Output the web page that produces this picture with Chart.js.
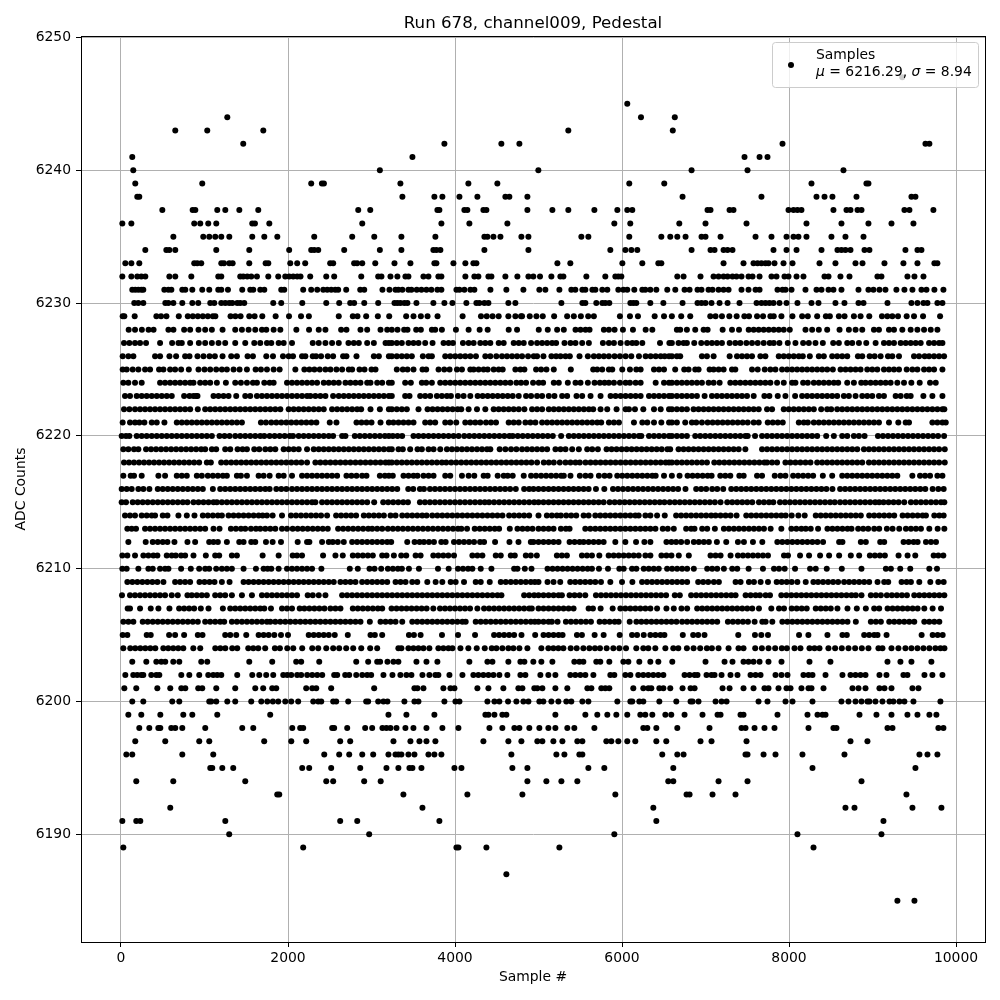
<!DOCTYPE html>
<html lang="en">
<head>
    <meta charset="UTF-8">
    <title>Run 678, channel009, Pedestal</title>
    <script src="https://cdn.jsdelivr.net/npm/chart.js"></script>
    <style>
        body { margin: 0; padding: 0; background: #ffffff; }
        canvas { display: block; }
    </style>
</head>
<body>
    <canvas id="pedestalChart" width="1000" height="1000"></canvas>

    <script>
        const xTicks = [0, 2000, 4000, 6000, 8000, 10000];
        const yTicks = [6190, 6200, 6210, 6220, 6230, 6240, 6250];
        const chartTitle = "Run 678, channel009, Pedestal";
        const xTitle = "Sample #";
        const yTitle = "ADC Counts";
        const seriesName = "Samples";
        const meanText = "6216.29";
        const sigmaText = "8.94";

        // sample numbers, one list per ADC count
        const adc6185 = [9298, 9502];
        const adc6187 = [4615];
        const adc6189 = [28, 2182, 4017, 4041, 4376, 5250, 8293];
        const adc6190 = [1296, 2972, 5908, 8101, 9107];
        const adc6191 = [16, 183, 231, 1249, 2625, 2829, 3813, 6411, 9131];
        const adc6192 = [590, 3610, 6375, 8676, 8784, 9478, 9825];
        const adc6193 = [1871, 1895, 3382, 4148, 4807, 5920, 6773, 6809, 7084, 7359, 9406];
        const adc6194 = [183, 626, 1488, 2458, 2541, 2912, 3110, 4867, 5094, 5274, 5465, 6554, 6614, 7156, 7503, 8868];
        const adc6195 = [1069, 1093, 1213, 1344, 2170, 2254, 2517, 2865, 3179, 3322, 3454, 3490, 3598, 3993, 4077, 4687, 4867, 5597, 5788, 6614, 8281, 9514];
        const adc6196 = [64, 135, 734, 1105, 2434, 2613, 2733, 2889, 3020, 3203, 3287, 3322, 3358, 3442, 3514, 3682, 3753, 3837, 4675, 5214, 5310, 5489, 5525, 6482, 6662, 6737, 7479, 7503, 7695, 7838, 8161, 8664, 9562, 9658, 9777];
        const adc6197 = [171, 530, 937, 1057, 1715, 2039, 2218, 2625, 2745, 3263, 3466, 3574, 3658, 3765, 4340, 4639, 4795, 4986, 5046, 5178, 5286, 5465, 5525, 5812, 5872, 5956, 6063, 6159, 6411, 6530, 6940, 7072, 7491, 8736, 8939];
        const adc6198 = [219, 339, 447, 471, 602, 650, 734, 1009, 1452, 1584, 2051, 2146, 2182, 2529, 2553, 2709, 2924, 3008, 3131, 3179, 3227, 3299, 3406, 3502, 3658, 3849, 4041, 4412, 4567, 4711, 4771, 4890, 5010, 5118, 5202, 5345, 5429, 5669, 6255, 6303, 6411, 6662, 7048, 7431, 7479, 7587, 7706, 7826, 8233, 8532, 8568, 9179, 9239, 9789, 9849];
        const adc6199 = [88, 243, 471, 746, 854, 1153, 1787, 3203, 3418, 3753, 4364, 4400, 4472, 4567, 4615, 5202, 5561, 5704, 5824, 5932, 6063, 6219, 6279, 6363, 6519, 6590, 6749, 6964, 7144, 7180, 7419, 7455, 7862, 8221, 8341, 8401, 8437, 8844, 9047, 9227, 9418, 9538, 9681, 9765];
        const adc6200 = [135, 267, 614, 698, 1057, 1081, 1141, 1273, 1368, 1560, 1680, 1752, 1819, 1883, 1967, 2039, 2122, 2302, 2362, 2398, 2541, 2577, 2721, 2936, 2960, 3080, 3143, 3191, 3394, 3514, 3562, 3873, 4005, 4053, 4388, 4472, 4531, 4635, 4735, 4819, 4879, 5010, 5058, 5154, 5238, 5333, 5393, 5525, 5597, 5944, 6100, 6123, 6207, 6255, 6447, 6650, 6821, 6845, 6916, 7120, 7192, 7252, 7635, 7742, 7958, 8042, 8281, 8628, 8712, 8796, 8868, 8939, 8963, 9035, 9119, 9203, 9250, 9322, 9382, 9490, 9813];
        const adc6201 = [40, 183, 435, 590, 722, 770, 925, 973, 1141, 1368, 1608, 1703, 1811, 1859, 2218, 2290, 2338, 2517, 3032, 3514, 3550, 3622, 3861, 3945, 3993, 4268, 4400, 4579, 4759, 4807, 4950, 4986, 5046, 5202, 5345, 5585, 5633, 5752, 5800, 5848, 6135, 6255, 6315, 6351, 6447, 6495, 6578, 6725, 6821, 6869, 7204, 7288, 7455, 7575, 7706, 7754, 7874, 7970, 8018, 8149, 8233, 8269, 8413, 8760, 8832, 8916, 9083, 9143, 9227, 9478, 9550];
        const adc6202 = [52, 147, 195, 243, 267, 363, 423, 459, 722, 818, 937, 1045, 1105, 1153, 1201, 1392, 1572, 1656, 1739, 1823, 1943, 1991, 2039, 2110, 2158, 2230, 2290, 2350, 2410, 2553, 2589, 2685, 2733, 2817, 2889, 2948, 2996, 3143, 3251, 3346, 3418, 3478, 3610, 3693, 3765, 3801, 3933, 4089, 4220, 4280, 4340, 4400, 4460, 4531, 4627, 4783, 4843, 5022, 5118, 5202, 5381, 5441, 5501, 5561, 5657, 5860, 5908, 6040, 6100, 6195, 6255, 6315, 6375, 6435, 6495, 6749, 6809, 6869, 6904, 7012, 7072, 7108, 7192, 7299, 7383, 7539, 7599, 7659, 7838, 7910, 7982, 8173, 8233, 8281, 8437, 8640, 8736, 8796, 8856, 8916, 9083, 9167, 9370, 9418, 9622, 9717, 9837];
        const adc6203 = [135, 303, 423, 483, 530, 626, 698, 961, 1033, 1536, 1811, 2098, 2158, 2374, 2817, 2960, 3068, 3103, 3191, 3263, 3322, 3538, 3658, 3789, 4172, 4388, 4448, 4639, 4783, 4831, 4938, 5034, 5166, 5429, 5489, 5537, 5692, 5740, 5848, 6016, 6076, 6207, 6339, 6435, 6602, 7000, 7228, 7323, 7455, 7515, 7575, 7647, 7754, 7910, 8245, 8496, 9179, 9334, 9466, 9705];
        const adc6204 = [28, 111, 171, 231, 291, 351, 411, 507, 566, 626, 686, 746, 866, 949, 1129, 1189, 1249, 1332, 1392, 1524, 1584, 1644, 1727, 1843, 1903, 1991, 2063, 2170, 2290, 2362, 2458, 2541, 2613, 2697, 2781, 2877, 2984, 3068, 3322, 3358, 3442, 3502, 3562, 3622, 3693, 3801, 3861, 3921, 3969, 4065, 4160, 4260, 4356, 4440, 4496, 4567, 4639, 4699, 4771, 4867, 5034, 5118, 5178, 5238, 5298, 5385, 5457, 5537, 5609, 5676, 5736, 5816, 5896, 5968, 6048, 6171, 6255, 6315, 6399, 6519, 6614, 6674, 6777, 6857, 6936, 7016, 7076, 7156, 7276, 7395, 7455, 7595, 7675, 7754, 7834, 7914, 7974, 8066, 8137, 8245, 8305, 8365, 8472, 8552, 8632, 8712, 8792, 8872, 8951, 9071, 9119, 9227, 9310, 9394, 9466, 9538, 9610, 9681, 9753, 9813, 9861];
        const adc6205 = [20, 76, 308, 356, 576, 648, 756, 920, 976, 1248, 1308, 1380, 1500, 1648, 1708, 1768, 1836, 1916, 2000, 2248, 2308, 2368, 2428, 2488, 2560, 2716, 2988, 3040, 3128, 3448, 3508, 3588, 3844, 4036, 4240, 4468, 4528, 4588, 4648, 4708, 4796, 4960, 5060, 5120, 5180, 5240, 5288, 5460, 5520, 5672, 5780, 5972, 6120, 6180, 6260, 6340, 6400, 6460, 6508, 6728, 6852, 6912, 6988, 7392, 7592, 7668, 7748, 8120, 8232, 8460, 8640, 8692, 8900, 8960, 9020, 9060, 9168, 9588, 9720, 9780, 9840];
        const adc6206 = [28, 88, 148, 260, 320, 380, 440, 500, 560, 620, 680, 740, 800, 860, 920, 1008, 1068, 1128, 1188, 1236, 1328, 1388, 1448, 1508, 1568, 1628, 1688, 1748, 1788, 1848, 1908, 1968, 2028, 2088, 2148, 2208, 2268, 2328, 2388, 2448, 2508, 2568, 2628, 2688, 2748, 2808, 2868, 2980, 3108, 3168, 3228, 3288, 3368, 3488, 3548, 3608, 3668, 3728, 3788, 3848, 3908, 3968, 4028, 4088, 4128, 4248, 4308, 4368, 4428, 4488, 4548, 4608, 4668, 4728, 4788, 4848, 4908, 4956, 5000, 5060, 5120, 5160, 5228, 5328, 5388, 5448, 5508, 5568, 5628, 5732, 5792, 5852, 5912, 5960, 6092, 6172, 6232, 6292, 6352, 6412, 6472, 6532, 6592, 6652, 6720, 6780, 6840, 6900, 6960, 7020, 7080, 7140, 7268, 7328, 7388, 7448, 7508, 7588, 7680, 7720, 7800, 7920, 7980, 8040, 8100, 8160, 8220, 8280, 8340, 8400, 8460, 8520, 8580, 8640, 8700, 8800, 8980, 9040, 9100, 9200, 9260, 9320, 9380, 9440, 9500, 9620, 9680, 9740, 9800];
        const adc6207 = [80, 108, 228, 356, 448, 580, 696, 756, 816, 876, 956, 1048, 1220, 1308, 1368, 1428, 1488, 1548, 1608, 1668, 1716, 1796, 1928, 1988, 2048, 2140, 2196, 2256, 2316, 2376, 2436, 2508, 2568, 2628, 2776, 2836, 2896, 2956, 3016, 3076, 3128, 3240, 3300, 3360, 3420, 3480, 3540, 3600, 3660, 3740, 3820, 3880, 3940, 4000, 4060, 4120, 4180, 4268, 4348, 4408, 4468, 4528, 4588, 4648, 4708, 4768, 4828, 4888, 4920, 5000, 5060, 5120, 5180, 5240, 5300, 5360, 5420, 5600, 5652, 5744, 5888, 5980, 6040, 6100, 6160, 6220, 6280, 6340, 6420, 6532, 6620, 6712, 6780, 6900, 6960, 7020, 7080, 7140, 7200, 7260, 7320, 7380, 7440, 7500, 7560, 7640, 7788, 7880, 7940, 8032, 8092, 8152, 8212, 8320, 8380, 8440, 8500, 8580, 8700, 8812, 8920, 9020, 9080, 9180, 9240, 9300, 9360, 9420, 9480, 9540, 9620, 9720, 9820];
        const adc6208 = [12, 108, 168, 228, 288, 348, 408, 468, 528, 608, 680, 796, 848, 908, 968, 1028, 1128, 1188, 1248, 1328, 1448, 1568, 1688, 1748, 1808, 1868, 1928, 1988, 2048, 2108, 2236, 2296, 2368, 2448, 2648, 2708, 2768, 2828, 2888, 2948, 3008, 3068, 3128, 3188, 3248, 3308, 3368, 3428, 3488, 3548, 3608, 3668, 3728, 3788, 3848, 3908, 3968, 4028, 4088, 4148, 4208, 4268, 4328, 4388, 4448, 4508, 4556, 4828, 4888, 4948, 5000, 5060, 5120, 5180, 5240, 5280, 5372, 5432, 5492, 5560, 5688, 5748, 5808, 5868, 5928, 5988, 6048, 6108, 6168, 6228, 6288, 6348, 6408, 6468, 6528, 6632, 6692, 6828, 6888, 6948, 7008, 7068, 7128, 7188, 7248, 7308, 7360, 7480, 7540, 7600, 7652, 7720, 7772, 7908, 7968, 8028, 8088, 8148, 8208, 8268, 8328, 8388, 8448, 8508, 8568, 8628, 8688, 8748, 8800, 8868, 8980, 9040, 9100, 9172, 9232, 9292, 9352, 9412, 9500, 9560, 9620, 9680, 9740, 9800, 9860];
        const adc6209 = [76, 136, 196, 256, 316, 376, 436, 508, 648, 708, 768, 828, 940, 1000, 1060, 1120, 1208, 1300, 1468, 1528, 1588, 1648, 1708, 1768, 1828, 1888, 1948, 2008, 2068, 2128, 2188, 2248, 2308, 2368, 2428, 2488, 2548, 2628, 2688, 2748, 2808, 2888, 2948, 3008, 3068, 3128, 3188, 3288, 3348, 3408, 3488, 3548, 3668, 3768, 3848, 3948, 4008, 4108, 4248, 4308, 4416, 4548, 4608, 4668, 4728, 4788, 4848, 4908, 4956, 5000, 5108, 5180, 5260, 5380, 5440, 5500, 5560, 5620, 5680, 5748, 5860, 6000, 6124, 6240, 6300, 6360, 6420, 6480, 6540, 6600, 6660, 6720, 6780, 6912, 6972, 7032, 7100, 7160, 7360, 7420, 7520, 7580, 7660, 7748, 7852, 7912, 7972, 8032, 8100, 8200, 8292, 8348, 8408, 8468, 8528, 8588, 8660, 8720, 8780, 8840, 8900, 8960, 9060, 9140, 9188, 9348, 9408, 9460, 9560, 9692, 9788, 9852];
        const adc6210 = [16, 68, 208, 328, 380, 468, 528, 568, 720, 836, 936, 1008, 1056, 1140, 1208, 1268, 1328, 1468, 1616, 1708, 1756, 1800, 1888, 1988, 2048, 2108, 2168, 2228, 2288, 2400, 2740, 2836, 2976, 3036, 3116, 3196, 3256, 3316, 3364, 3448, 3568, 3796, 3924, 4036, 4096, 4156, 4208, 4308, 4436, 4708, 4748, 4836, 4916, 5108, 5168, 5228, 5288, 5348, 5408, 5468, 5528, 5588, 5640, 5724, 5832, 5968, 6020, 6120, 6172, 6260, 6320, 6380, 6440, 6540, 6600, 6660, 6720, 6780, 6860, 7020, 7080, 7140, 7220, 7320, 7380, 7516, 7688, 7820, 7880, 7948, 8072, 8252, 8320, 8452, 8632, 8868, 9160, 9220, 9332, 9452, 9680, 9772];
        const adc6211 = [16, 76, 168, 268, 328, 388, 436, 548, 608, 656, 720, 768, 868, 1016, 1128, 1176, 1328, 1388, 1696, 1888, 2056, 2108, 2168, 2420, 2568, 2656, 2776, 2836, 2896, 2956, 3016, 3128, 3180, 3268, 3356, 3416, 3528, 3588, 3740, 3800, 3860, 3920, 3988, 4208, 4268, 4328, 4488, 4548, 4668, 4716, 4848, 4908, 4980, 5220, 5280, 5340, 5520, 5580, 5640, 5728, 5840, 5900, 5960, 6020, 6080, 6140, 6200, 6280, 6340, 6472, 6532, 6592, 6680, 6800, 7060, 7120, 7180, 7300, 7388, 7448, 7508, 7568, 7628, 7688, 7748, 7940, 7988, 8132, 8240, 8372, 8480, 8600, 8740, 8840, 8968, 9028, 9088, 9148, 9312, 9420, 9512, 9732, 9788, 9848];
        const adc6212 = [88, 296, 380, 440, 500, 556, 640, 796, 888, 1056, 1108, 1160, 1268, 1416, 1468, 1560, 1608, 1736, 1816, 1916, 2116, 2228, 2256, 2408, 2488, 2536, 2596, 2668, 2768, 2828, 2888, 2948, 3008, 3068, 3128, 3188, 3236, 3428, 3516, 3576, 3628, 3688, 3748, 3836, 3888, 3988, 4048, 4108, 4168, 4228, 4300, 4348, 4480, 4652, 4760, 4908, 4940, 5000, 5060, 5120, 5180, 5240, 5372, 5432, 5492, 5540, 5600, 5660, 5720, 5780, 5920, 6040, 6168, 6268, 6340, 6532, 6592, 6648, 6708, 6780, 6860, 6920, 6980, 7040, 7136, 7248, 7388, 7460, 7568, 7680, 7860, 7920, 7980, 8040, 8100, 8160, 8220, 8280, 8340, 8408, 8600, 8640, 8860, 8920, 9092, 9140, 9372, 9432, 9492, 9540, 9640, 9700, 9760];
        const adc6213 = [76, 128, 180, 288, 348, 408, 468, 528, 588, 648, 708, 768, 828, 888, 948, 1008, 1108, 1180, 1316, 1376, 1436, 1488, 1556, 1616, 1668, 1728, 1788, 1848, 1928, 1988, 2056, 2116, 2176, 2236, 2296, 2356, 2416, 2476, 2600, 2660, 2720, 2780, 2840, 2900, 2960, 3008, 3068, 3128, 3196, 3256, 3316, 3376, 3436, 3496, 3556, 3616, 3676, 3736, 3796, 3856, 3916, 3976, 4036, 4076, 4144, 4236, 4296, 4356, 4416, 4476, 4528, 4656, 4748, 4808, 4868, 4928, 5000, 5060, 5120, 5180, 5268, 5328, 5372, 5560, 5620, 5680, 5740, 5800, 5860, 5920, 5980, 6040, 6100, 6160, 6220, 6280, 6340, 6400, 6488, 6548, 6620, 6768, 6828, 6868, 6960, 7020, 7112, 7220, 7280, 7340, 7400, 7460, 7520, 7580, 7640, 7700, 7780, 7908, 8028, 8088, 8148, 8200, 8260, 8348, 8460, 8520, 8580, 8640, 8700, 8748, 8828, 8888, 8948, 9020, 9080, 9172, 9240, 9320, 9400, 9460, 9520, 9580, 9680, 9780, 9860];
        const adc6214 = [48, 108, 168, 248, 308, 368, 408, 500, 556, 688, 788, 880, 980, 1040, 1100, 1160, 1208, 1288, 1348, 1408, 1468, 1528, 1588, 1648, 1696, 1748, 1816, 1928, 2036, 2096, 2156, 2216, 2276, 2336, 2396, 2468, 2576, 2636, 2696, 2756, 2816, 2908, 2968, 3028, 3088, 3148, 3228, 3288, 3368, 3428, 3488, 3548, 3608, 3660, 3728, 3788, 3848, 3908, 3968, 4028, 4088, 4148, 4208, 4268, 4328, 4388, 4448, 4508, 4568, 4648, 4708, 4768, 4828, 4888, 5000, 5100, 5160, 5220, 5268, 5332, 5392, 5452, 5540, 5600, 5680, 5740, 5800, 5860, 5920, 5980, 6040, 6100, 6160, 6200, 6280, 6340, 6420, 6512, 6648, 6708, 6768, 6828, 6888, 6948, 7008, 7068, 7120, 7180, 7240, 7300, 7372, 7488, 7548, 7608, 7668, 7728, 7788, 7848, 7908, 7960, 8032, 8112, 8188, 8320, 8380, 8440, 8500, 8560, 8620, 8680, 8740, 8800, 8860, 8960, 9020, 9080, 9140, 9200, 9260, 9360, 9420, 9480, 9540, 9600, 9640, 9740, 9800, 9852];
        const adc6215 = [8, 60, 140, 200, 260, 320, 380, 440, 500, 560, 620, 680, 740, 796, 868, 928, 988, 1048, 1108, 1148, 1208, 1268, 1328, 1388, 1448, 1508, 1568, 1628, 1688, 1748, 1808, 1868, 1928, 1988, 2048, 2108, 2168, 2228, 2288, 2328, 2408, 2468, 2528, 2588, 2648, 2708, 2768, 2828, 2888, 2948, 3032, 3140, 3200, 3260, 3320, 3380, 3436, 3580, 3640, 3700, 3760, 3820, 3880, 3940, 4000, 4060, 4120, 4180, 4240, 4300, 4356, 4408, 4468, 4528, 4588, 4648, 4708, 4768, 4828, 4888, 4948, 5000, 5060, 5120, 5180, 5240, 5300, 5360, 5420, 5480, 5540, 5600, 5660, 5720, 5780, 5852, 5912, 5972, 6032, 6092, 6152, 6212, 6272, 6332, 6392, 6452, 6508, 6572, 6632, 6692, 6752, 6812, 6872, 6932, 6992, 7052, 7112, 7180, 7260, 7320, 7380, 7440, 7500, 7560, 7640, 7700, 7760, 7812, 7892, 7952, 8012, 8072, 8132, 8192, 8252, 8312, 8372, 8432, 8492, 8548, 8612, 8672, 8732, 8792, 8852, 8912, 8972, 9032, 9080, 9132, 9192, 9252, 9312, 9380, 9460, 9520, 9580, 9640, 9700, 9760, 9820, 9860];
        const adc6216 = [8, 68, 128, 208, 268, 340, 440, 500, 560, 620, 680, 740, 800, 860, 920, 980, 1100, 1188, 1248, 1308, 1368, 1428, 1488, 1548, 1608, 1668, 1728, 1780, 1860, 1920, 1980, 2048, 2108, 2168, 2228, 2288, 2348, 2408, 2468, 2528, 2588, 2648, 2708, 2768, 2828, 2888, 2948, 3008, 3068, 3128, 3188, 3248, 3308, 3440, 3500, 3580, 3628, 3700, 3760, 3820, 3880, 3940, 4000, 4060, 4120, 4180, 4240, 4300, 4360, 4420, 4480, 4540, 4600, 4660, 4728, 4828, 4888, 4940, 5000, 5060, 5120, 5180, 5240, 5300, 5360, 5420, 5480, 5540, 5600, 5688, 5788, 5892, 5952, 6012, 6072, 6132, 6192, 6252, 6312, 6372, 6432, 6492, 6552, 6612, 6672, 6760, 6888, 6948, 7008, 7080, 7140, 7212, 7308, 7368, 7428, 7488, 7548, 7608, 7668, 7728, 7788, 7848, 7908, 7968, 8028, 8088, 8148, 8208, 8268, 8328, 8388, 8448, 8520, 8612, 8672, 8732, 8792, 8852, 8912, 8972, 9032, 9092, 9152, 9212, 9272, 9332, 9392, 9452, 9512, 9572, 9632, 9720, 9788, 9852];
        const adc6217 = [28, 116, 156, 248, 448, 528, 668, 728, 788, 908, 968, 1040, 1100, 1160, 1220, 1268, 1388, 1436, 1508, 1648, 1708, 1780, 1888, 1948, 2048, 2168, 2228, 2288, 2348, 2408, 2468, 2528, 2588, 2700, 2760, 2820, 2888, 2940, 3100, 3160, 3208, 3255, 3383, 3443, 3503, 3551, 3623, 3683, 3743, 3883, 3943, 4083, 4163, 4231, 4343, 4391, 4511, 4583, 4631, 4691, 4823, 4911, 4971, 5031, 5091, 5151, 5211, 5271, 5303, 5383, 5495, 5563, 5623, 5723, 5791, 5851, 5943, 6003, 6063, 6123, 6183, 6243, 6303, 6363, 6403, 6503, 6597, 6689, 6785, 6845, 6905, 6965, 7025, 7073, 7177, 7237, 7297, 7405, 7457, 7617, 7677, 7829, 7897, 7957, 8049, 8109, 8169, 8229, 8289, 8405, 8517, 8637, 8697, 8757, 8817, 8877, 8937, 8997, 9057, 9117, 9177, 9237, 9297, 9477, 9569, 9629, 9689, 9777, 9837];
        const adc6218 = [36, 96, 156, 216, 276, 336, 396, 456, 516, 576, 636, 696, 756, 816, 876, 936, 1028, 1076, 1200, 1260, 1320, 1380, 1440, 1500, 1560, 1620, 1680, 1740, 1800, 1860, 1920, 1980, 2040, 2100, 2160, 2228, 2328, 2388, 2448, 2508, 2568, 2628, 2688, 2748, 2808, 2868, 2928, 2988, 3048, 3108, 3168, 3208, 3243, 3303, 3363, 3423, 3483, 3543, 3603, 3663, 3723, 3783, 3843, 3895, 3955, 4015, 4075, 4135, 4195, 4255, 4315, 4375, 4435, 4495, 4555, 4615, 4675, 4735, 4795, 4855, 4915, 4983, 5063, 5123, 5183, 5255, 5323, 5383, 5443, 5495, 5563, 5623, 5683, 5743, 5803, 5863, 5923, 5983, 6043, 6103, 6163, 6223, 6283, 6343, 6403, 6463, 6523, 6563, 6597, 6657, 6717, 6777, 6837, 6897, 6957, 7017, 7105, 7165, 7225, 7285, 7345, 7405, 7465, 7525, 7585, 7645, 7705, 7737, 7797, 7857, 7957, 8017, 8077, 8137, 8197, 8257, 8337, 8397, 8457, 8517, 8577, 8637, 8697, 8757, 8817, 8877, 8957, 9017, 9077, 9137, 9197, 9257, 9317, 9377, 9437, 9497, 9557, 9617, 9677, 9737, 9797, 9865];
        const adc6219 = [28, 88, 156, 208, 300, 360, 420, 480, 540, 600, 660, 720, 780, 840, 900, 960, 1008, 1088, 1140, 1248, 1308, 1396, 1456, 1508, 1596, 1656, 1728, 1788, 1848, 1948, 2008, 2068, 2128, 2228, 2308, 2368, 2428, 2488, 2548, 2608, 2668, 2728, 2788, 2848, 2908, 2968, 3028, 3088, 3148, 3208, 3243, 3323, 3375, 3463, 3551, 3603, 3683, 3743, 3823, 3903, 3963, 4023, 4083, 4143, 4203, 4263, 4323, 4383, 4423, 4535, 4603, 4671, 4735, 4803, 4863, 4923, 4983, 5043, 5103, 5203, 5263, 5323, 5403, 5483, 5583, 5643, 5711, 5815, 5875, 5935, 5995, 6055, 6115, 6175, 6235, 6295, 6355, 6415, 6475, 6543, 6577, 6677, 6737, 6797, 6857, 6917, 6977, 7037, 7097, 7157, 7217, 7277, 7337, 7397, 7477, 7677, 7737, 7797, 7857, 7917, 7977, 8037, 8097, 8157, 8217, 8277, 8337, 8397, 8457, 8517, 8577, 8637, 8697, 8757, 8817, 8897, 8957, 9017, 9077, 9137, 9197, 9257, 9317, 9377, 9437, 9497, 9557, 9617, 9677, 9737, 9797, 9865];
        const adc6220 = [8, 60, 100, 188, 248, 308, 368, 428, 488, 548, 608, 668, 728, 788, 848, 908, 968, 1028, 1088, 1180, 1240, 1300, 1368, 1428, 1488, 1548, 1608, 1668, 1716, 1780, 1840, 1900, 1960, 2020, 2060, 2128, 2188, 2248, 2308, 2368, 2428, 2488, 2540, 2648, 2688, 2800, 2860, 2920, 2980, 3040, 3100, 3160, 3208, 3255, 3311, 3367, 3503, 3563, 3623, 3683, 3743, 3803, 3863, 3923, 3983, 4043, 4111, 4171, 4231, 4291, 4351, 4411, 4471, 4531, 4591, 4651, 4691, 4751, 4811, 4871, 4931, 4991, 5051, 5111, 5171, 5271, 5363, 5423, 5483, 5543, 5603, 5663, 5723, 5783, 5843, 5903, 5963, 6023, 6083, 6143, 6203, 6231, 6323, 6383, 6443, 6503, 6563, 6597, 6657, 6717, 6777, 6877, 6937, 6997, 7057, 7117, 7177, 7237, 7297, 7357, 7417, 7477, 7505, 7593, 7677, 7737, 7797, 7857, 7917, 7977, 8037, 8097, 8157, 8217, 8277, 8337, 8445, 8537, 8637, 8697, 8777, 8837, 8905, 9065, 9125, 9185, 9245, 9305, 9365, 9425, 9485, 9545, 9605, 9665, 9725, 9785, 9857];
        const adc6221 = [20, 108, 168, 220, 280, 368, 428, 520, 668, 728, 788, 848, 908, 968, 1028, 1088, 1148, 1208, 1268, 1328, 1388, 1448, 1676, 1736, 1800, 1860, 1920, 1980, 2040, 2100, 2160, 2220, 2280, 2340, 2500, 2580, 2820, 2880, 2940, 3000, 3108, 3208, 3263, 3323, 3383, 3443, 3503, 3643, 3703, 3763, 3883, 3943, 4015, 4123, 4183, 4243, 4303, 4371, 4431, 4491, 4643, 4703, 4763, 4843, 4903, 4963, 5043, 5103, 5163, 5223, 5283, 5343, 5403, 5463, 5523, 5583, 5643, 5703, 5751, 5843, 5903, 5963, 6143, 6243, 6303, 6383, 6471, 6563, 6597, 6657, 6757, 6837, 6889, 6957, 7025, 7085, 7145, 7205, 7265, 7325, 7385, 7445, 7505, 7577, 7637, 7745, 7805, 7865, 7925, 8117, 8177, 8225, 8297, 8357, 8417, 8477, 8537, 8597, 8657, 8717, 8777, 8837, 8897, 8957, 9017, 9077, 9197, 9309, 9397, 9437, 9717, 9777, 9837, 9877];
        const adc6222 = [36, 100, 168, 228, 288, 348, 408, 468, 528, 588, 648, 708, 768, 828, 920, 1008, 1068, 1128, 1188, 1248, 1308, 1368, 1428, 1488, 1548, 1608, 1668, 1728, 1788, 1848, 1908, 2008, 2068, 2128, 2188, 2248, 2308, 2368, 2428, 2528, 2588, 2648, 2708, 2768, 2828, 2876, 2988, 3100, 3208, 3243, 3303, 3363, 3423, 3563, 3671, 3731, 3791, 3851, 3911, 3971, 4031, 4075, 4163, 4263, 4363, 4463, 4523, 4583, 4643, 4703, 4763, 4831, 4923, 4983, 5043, 5123, 5183, 5243, 5303, 5363, 5423, 5483, 5543, 5603, 5655, 5743, 5823, 5935, 6043, 6083, 6155, 6255, 6383, 6463, 6563, 6597, 6657, 6717, 6777, 6857, 6917, 6977, 7037, 7097, 7157, 7217, 7277, 7337, 7397, 7457, 7517, 7577, 7637, 7737, 7797, 7937, 7997, 8057, 8117, 8177, 8237, 8297, 8385, 8457, 8505, 8577, 8637, 8697, 8757, 8817, 8877, 8937, 8997, 9057, 9117, 9177, 9237, 9297, 9357, 9417, 9477, 9537, 9597, 9657, 9717, 9777, 9837, 9860];
        const adc6223 = [48, 108, 188, 248, 308, 368, 428, 488, 548, 608, 756, 820, 868, 900, 916, 1108, 1168, 1228, 1288, 1380, 1488, 1548, 1628, 1688, 1748, 1808, 1868, 1928, 1988, 2048, 2108, 2168, 2228, 2268, 2328, 2388, 2448, 2540, 2608, 2668, 2728, 2788, 2848, 2908, 2968, 3028, 3088, 3148, 3208, 3243, 3403, 3455, 3583, 3643, 3703, 3783, 3843, 3903, 3951, 4035, 4103, 4183, 4271, 4331, 4391, 4451, 4511, 4571, 4631, 4691, 4763, 4851, 4911, 4983, 5043, 5123, 5191, 5283, 5343, 5455, 5523, 5623, 5743, 5863, 5923, 5983, 6043, 6103, 6163, 6223, 6323, 6383, 6443, 6503, 6563, 6597, 6657, 6717, 6777, 6837, 6897, 6989, 7077, 7137, 7197, 7257, 7317, 7377, 7437, 7497, 7577, 7705, 7765, 7865, 7957, 8073, 8157, 8217, 8277, 8337, 8397, 8457, 8517, 8577, 8657, 8717, 8797, 8877, 8937, 8997, 9077, 9137, 9277, 9337, 9409, 9457, 9609, 9717, 9837];
        const adc6224 = [28, 88, 168, 248, 468, 528, 588, 648, 708, 768, 828, 868, 948, 1008, 1068, 1148, 1256, 1368, 1436, 1508, 1580, 1628, 1716, 1780, 1828, 1988, 2048, 2108, 2168, 2228, 2288, 2348, 2428, 2488, 2548, 2608, 2688, 2748, 2808, 2868, 2948, 2988, 3068, 3128, 3208, 3243, 3403, 3471, 3603, 3655, 3723, 3823, 3883, 3943, 4003, 4063, 4123, 4183, 4243, 4303, 4363, 4423, 4483, 4543, 4603, 4663, 4735, 4791, 4851, 4935, 5003, 5055, 5183, 5243, 5351, 5443, 5503, 5591, 5671, 5735, 5791, 5843, 5903, 5975, 6043, 6095, 6163, 6223, 6403, 6503, 6563, 6597, 6657, 6717, 6777, 6837, 6897, 6957, 7037, 7097, 7169, 7297, 7357, 7417, 7477, 7537, 7597, 7657, 7717, 7777, 7857, 7937, 8037, 8077, 8169, 8225, 8297, 8357, 8417, 8477, 8537, 8589, 8697, 8777, 8865, 8917, 8977, 9037, 9097, 9157, 9217, 9297, 9377, 9465, 9565, 9689, 9757];
        const adc6225 = [20, 68, 140, 208, 288, 348, 456, 508, 588, 648, 720, 812, 928, 1000, 1068, 1140, 1208, 1268, 1348, 1420, 1508, 1612, 1676, 1748, 1828, 1900, 2088, 2196, 2256, 2316, 2380, 2448, 2508, 2580, 2648, 2728, 2768, 2856, 2916, 3000, 3048, 3303, 3375, 3431, 3503, 3611, 3655, 3803, 3871, 3935, 4023, 4083, 4183, 4223, 4283, 4343, 4391, 4463, 4523, 4571, 4723, 4783, 4831, 4971, 5031, 5095, 5183, 5387, 5655, 5703, 5763, 5843, 5883, 6003, 6095, 6171, 6223, 6383, 6443, 6503, 6637, 6745, 6797, 6877, 6917, 7049, 7097, 7157, 7217, 7317, 7357, 7557, 7625, 7709, 7777, 7837, 7917, 7977, 8037, 8097, 8157, 8217, 8277, 8337, 8397, 8457, 8525, 8617, 8677, 8737, 8797, 8857, 8937, 8997, 9057, 9137, 9197, 9257, 9317, 9409, 9477, 9537, 9617, 9677, 9737, 9837];
        const adc6226 = [20, 88, 148, 408, 468, 580, 660, 768, 820, 916, 988, 1060, 1124, 1216, 1320, 1388, 1516, 1580, 1740, 1820, 1940, 2008, 2060, 2168, 2208, 2296, 2336, 2396, 2476, 2540, 2660, 2700, 2820, 3028, 3088, 3208, 3243, 3303, 3363, 3423, 3483, 3615, 3683, 3723, 3883, 3943, 4003, 4063, 4123, 4183, 4251, 4363, 4423, 4495, 4563, 4623, 4683, 4743, 4803, 4875, 4943, 4983, 5059, 5155, 5211, 5263, 5323, 5375, 5491, 5591, 5663, 5723, 5783, 5843, 5911, 5975, 6043, 6111, 6203, 6283, 6343, 6403, 6463, 6511, 6563, 6597, 6657, 6697, 6957, 7017, 7097, 7289, 7377, 7437, 7497, 7557, 7657, 7717, 7877, 7937, 7997, 8057, 8117, 8165, 8249, 8357, 8417, 8517, 8577, 8637, 8697, 8825, 8877, 8965, 9025, 9097, 9185, 9237, 9317, 9497, 9557, 9625, 9677, 9737, 9797, 9857];
        const adc6227 = [36, 100, 168, 228, 300, 468, 612, 688, 728, 828, 932, 1008, 1088, 1168, 1248, 1368, 1488, 1596, 1668, 1748, 1800, 1888, 1948, 2048, 2296, 2368, 2448, 2528, 2608, 2724, 2788, 2848, 2948, 3028, 3168, 3208, 3243, 3303, 3363, 3443, 3503, 3563, 3643, 3731, 3863, 3923, 3975, 4095, 4163, 4223, 4303, 4363, 4423, 4523, 4583, 4703, 4763, 4823, 4911, 4983, 5043, 5103, 5163, 5211, 5311, 5383, 5443, 5523, 5603, 5771, 5843, 5903, 5983, 6063, 6123, 6171, 6243, 6455, 6567, 6597, 6677, 6737, 6777, 6865, 6949, 7017, 7077, 7137, 7197, 7289, 7357, 7417, 7489, 7557, 7625, 7697, 7769, 7817, 7885, 7985, 8077, 8169, 8237, 8317, 8405, 8529, 8597, 8697, 8757, 8837, 8925, 9037, 9137, 9197, 9257, 9337, 9397, 9457, 9517, 9577, 9677, 9737, 9797, 9837];
        const adc6228 = [92, 168, 250, 330, 390, 568, 628, 756, 828, 928, 1008, 1088, 1216, 1368, 1448, 1528, 1608, 1688, 1740, 1828, 1908, 2100, 2252, 2368, 2448, 2636, 2700, 2868, 2948, 3108, 3188, 3243, 3311, 3391, 3431, 3535, 3591, 3723, 3763, 3843, 4011, 4163, 4295, 4391, 4643, 4743, 5003, 5111, 5223, 5303, 5443, 5503, 5563, 5611, 5783, 5843, 5911, 6011, 6131, 6283, 6363, 6657, 6697, 6777, 6877, 6977, 7025, 7205, 7317, 7401, 7517, 7577, 7637, 7697, 7757, 7817, 7877, 7937, 8009, 8197, 8277, 8357, 8457, 8605, 8717, 8797, 8877, 9017, 9077, 9197, 9257, 9357, 9457, 9537, 9617, 9697, 9777];
        const adc6229 = [20, 40, 164, 424, 480, 544, 692, 800, 860, 920, 980, 1040, 1100, 1130, 1312, 1370, 1432, 1536, 1600, 1692, 1852, 2012, 2156, 2250, 2608, 2776, 2832, 2936, 3076, 3212, 3415, 3503, 3591, 3671, 3791, 4091, 4311, 4380, 4450, 4523, 4639, 4723, 4790, 4803, 4895, 4975, 5051, 5187, 5343, 5423, 5507, 5595, 5663, 5975, 6095, 6191, 6391, 6503, 6597, 6709, 6817, 7057, 7120, 7197, 7285, 7373, 7465, 7521, 7617, 7689, 7777, 7817, 7909, 8041, 8157, 8225, 8337, 8441, 8489, 8597, 8665, 8777, 8857, 8961, 9113, 9177, 9237, 9305, 9409, 9497, 9605, 9809];
        const adc6230 = [159, 207, 267, 531, 567, 627, 734, 854, 925, 1069, 1117, 1201, 1249, 1297, 1333, 1392, 1428, 1476, 1823, 1919, 2171, 2458, 2613, 2745, 2792, 2913, 3080, 3275, 3310, 3346, 3394, 3430, 3538, 3741, 3873, 3969, 4136, 4256, 4292, 4352, 4400, 4639, 4723, 5274, 5525, 5561, 5692, 5764, 5800, 5848, 6100, 6135, 6171, 6339, 6495, 6725, 6904, 6952, 7000, 7072, 7168, 7264, 7407, 7611, 7670, 7718, 7766, 7814, 7886, 7970, 8101, 8269, 8353, 8556, 8664, 8832, 8892, 9179, 9466, 9538, 9610, 9658, 9777, 9837];
        const adc6231 = [135, 171, 207, 243, 267, 519, 567, 603, 734, 770, 854, 973, 1057, 1165, 1201, 1281, 1452, 1548, 1584, 1668, 1716, 1919, 1955, 2182, 2278, 2350, 2422, 2470, 2518, 2566, 2601, 2697, 2865, 2913, 3131, 3215, 3287, 3322, 3370, 3442, 3478, 3542, 3598, 3658, 3717, 3789, 3837, 4017, 4053, 4112, 4184, 4232, 4424, 4615, 4819, 5010, 5082, 5250, 5393, 5441, 5525, 5561, 5645, 5681, 5764, 5824, 5956, 6016, 6063, 6147, 6243, 6279, 6339, 6411, 6542, 6638, 6749, 6809, 6904, 6952, 7036, 7084, 7156, 7216, 7276, 7431, 7515, 7599, 7647, 7862, 7922, 7958, 8030, 8197, 8329, 8389, 8473, 8532, 8628, 8832, 8951, 9011, 9083, 9155, 9286, 9382, 9478, 9586, 9646, 9741, 9849];
        const adc6232 = [16, 124, 195, 243, 291, 579, 650, 842, 1165, 1201, 1428, 1464, 1512, 1560, 1628, 1764, 1883, 1967, 2014, 2062, 2110, 2150, 2266, 2458, 2553, 2877, 3080, 3119, 3227, 3310, 3406, 3442, 3622, 3682, 3801, 3837, 4124, 4232, 4280, 4400, 4436, 4603, 4747, 4879, 4938, 5018, 5154, 5262, 5298, 5573, 5800, 5920, 5956, 5992, 6662, 6737, 6940, 7096, 7156, 7216, 7264, 7323, 7371, 7431, 7515, 7563, 7647, 7790, 7850, 7946, 7994, 8090, 8173, 8425, 8473, 8616, 8724, 9059, 9107, 9418, 9502, 9610];
        const adc6233 = [52, 124, 219, 877, 913, 961, 1201, 1233, 1297, 1337, 1536, 1732, 1764, 2027, 2110, 2206, 2505, 2541, 2792, 2828, 2889, 3045, 3275, 3466, 3753, 3777, 3981, 4124, 4220, 4256, 5226, 5381, 6004, 6243, 6435, 6471, 7216, 7455, 7575, 7623, 7670, 7718, 7754, 7826, 7934, 8042, 8365, 8556, 8796, 8880, 9143, 9370, 9538, 9741, 9777];
        const adc6234 = [291, 543, 579, 650, 1141, 1536, 2014, 2278, 2314, 2362, 2673, 3100, 3358, 3741, 3777, 3825, 4352, 4879, 5860, 6040, 6112, 6183, 6833, 7060, 7108, 7216, 7264, 7323, 7814, 7970, 8090, 8389, 8580, 8628, 8676, 8736, 8904, 8963, 9394, 9538, 9586];
        const adc6235 = [627, 985, 1057, 1129, 1201, 1297, 1572, 1716, 1872, 2314, 2769, 3033, 3358, 3765, 4352, 4388, 4460, 4544, 4795, 4879, 5513, 5597, 6087, 6471, 6578, 6662, 6761, 6952, 7000, 7180, 7599, 7790, 7970, 8054, 8113, 8209, 8508, 8676, 8892];
        const adc6236 = [16, 124, 877, 949, 1045, 1141, 1572, 1604, 1776, 2889, 3837, 4172, 4627, 5908, 6099, 6686, 7000, 7491, 8209, 8628, 8951, 9227, 9490];
        const adc6237 = [495, 858, 890, 1153, 1249, 1417, 1644, 2841, 2985, 3789, 3813, 4112, 4148, 4340, 4376, 4867, 5166, 5357, 5669, 5944, 6063, 6123, 7024, 7060, 7288, 7335, 7994, 8054, 8101, 8149, 8532, 8688, 8736, 8820, 8868, 9382, 9442, 9729];
        const adc6238 = [195, 219, 3370, 3753, 3849, 4053, 4268, 4603, 4651, 4867, 6725, 7670, 8329, 8425, 8520, 8808, 9466, 9514];
        const adc6239 = [171, 973, 2278, 2406, 2430, 3346, 4160, 4507, 6087, 6506, 8269, 8927, 8951];
        const adc6240 = [147, 3100, 4998, 6833, 7503, 8652];
        const adc6241 = [135, 3490, 7467, 7647, 7742];
        const adc6242 = [1464, 3873, 4555, 4771, 7922, 9634, 9681];
        const adc6243 = [650, 1033, 1704, 5357, 6608];
        const adc6244 = [1273, 6227, 6632];
        const adc6245 = [6063];
        const adc6247 = [9356];

        const adcLevels = [6185, 6187, 6189, 6190, 6191, 6192, 6193, 6194, 6195, 6196, 6197, 6198, 6199, 6200, 6201, 6202, 6203, 6204, 6205, 6206, 6207, 6208, 6209, 6210, 6211, 6212, 6213, 6214, 6215, 6216, 6217, 6218, 6219, 6220, 6221, 6222, 6223, 6224, 6225, 6226, 6227, 6228, 6229, 6230, 6231, 6232, 6233, 6234, 6235, 6236, 6237, 6238, 6239, 6240, 6241, 6242, 6243, 6244, 6245, 6247];
        const adcSamples = [adc6185, adc6187, adc6189, adc6190, adc6191, adc6192, adc6193, adc6194, adc6195, adc6196, adc6197, adc6198, adc6199, adc6200, adc6201, adc6202, adc6203, adc6204, adc6205, adc6206, adc6207, adc6208, adc6209, adc6210, adc6211, adc6212, adc6213, adc6214, adc6215, adc6216, adc6217, adc6218, adc6219, adc6220, adc6221, adc6222, adc6223, adc6224, adc6225, adc6226, adc6227, adc6228, adc6229, adc6230, adc6231, adc6232, adc6233, adc6234, adc6235, adc6236, adc6237, adc6238, adc6239, adc6240, adc6241, adc6242, adc6243, adc6244, adc6245, adc6247];

        const points = [];
        adcLevels.forEach((level, i) => {
            adcSamples[i].forEach(sample => points.push({ x: sample, y: level }));
        });

        const fontFamily = "'DejaVu Sans', sans-serif";

        // top and right spines, chart.js only gives us the axis side ones
        const frame = {
            id: 'frame',
            afterDatasetsDraw(chart) {
                const { ctx, chartArea: a } = chart;
                ctx.save();
                ctx.strokeStyle = '#000000';
                ctx.lineWidth = 1;
                ctx.strokeRect(a.left + 0.5, a.top + 0.5, a.right - a.left, a.bottom - a.top);
                ctx.restore();
            }
        };

        // matplotlib style legend box, the italic mu and sigma need mixed fonts
        const statsLegend = {
            id: 'statsLegend',
            afterDraw(chart) {
                const ctx = chart.ctx;
                ctx.save();
                ctx.beginPath();
                ctx.roundRect(772.5, 42.5, 206, 45, 3);
                ctx.fillStyle = 'rgba(255, 255, 255, 0.8)';
                ctx.fill();
                ctx.strokeStyle = '#cccccc';
                ctx.lineWidth = 1;
                ctx.stroke();

                ctx.beginPath();
                ctx.arc(791, 65, 3, 0, Math.PI * 2);
                ctx.fillStyle = '#000000';
                ctx.fill();

                ctx.textBaseline = 'alphabetic';
                ctx.textAlign = 'left';
                ctx.font = `13.9px ${fontFamily}`;
                ctx.fillText(seriesName, 816, 59);

                const parts = [
                    ['μ', true], [` = ${meanText}, `, false],
                    ['σ', true], [` = ${sigmaText}`, false]
                ];
                let x = 816;
                parts.forEach(([text, italic]) => {
                    ctx.font = `${italic ? 'italic ' : ''}13.9px ${fontFamily}`;
                    ctx.fillText(text, x, 76);
                    x += ctx.measureText(text).width;
                });
                ctx.restore();
            }
        };

        new Chart(document.getElementById('pedestalChart'), {
            type: 'scatter',
            data: {
                datasets: [{
                    label: seriesName,
                    data: points,
                    backgroundColor: '#000000',
                    borderWidth: 0,
                    pointRadius: 3
                }]
            },
            options: {
                responsive: false,
                animation: false,
                layout: { padding: { left: 0, right: 15, top: 0, bottom: 0 } },
                plugins: {
                    legend: { display: false },
                    tooltip: { enabled: false },
                    title: {
                        display: true,
                        text: chartTitle,
                        fullSize: false,
                        color: '#000000',
                        font: { family: fontFamily, size: 16.67, weight: 'normal' },
                        padding: { top: 14, bottom: 2 }
                    }
                },
                scales: {
                    x: {
                        type: 'linear',
                        min: -479,
                        max: 10347,
                        afterBuildTicks: axis => { axis.ticks = xTicks.map(value => ({ value })); },
                        afterFit: axis => { axis.height = 58; },
                        grid: { color: '#b0b0b0', lineWidth: 1, tickColor: '#000000', tickLength: 5 },
                        border: { display: true, color: '#000000' },
                        ticks: {
                            color: '#000000',
                            padding: 3,
                            maxRotation: 0,
                            autoSkip: false,
                            font: { family: fontFamily, size: 13.9 },
                            callback: value => String(value)
                        },
                        title: {
                            display: true,
                            text: xTitle,
                            color: '#000000',
                            font: { family: fontFamily, size: 13.9 },
                            padding: { top: 0, bottom: 14 }
                        }
                    },
                    y: {
                        type: 'linear',
                        min: 6181.89,
                        max: 6250.11,
                        afterBuildTicks: axis => { axis.ticks = yTicks.map(value => ({ value })); },
                        afterFit: axis => { axis.width = 81; },
                        grid: { color: '#b0b0b0', lineWidth: 1, tickColor: '#000000', tickLength: 5 },
                        border: { display: true, color: '#000000' },
                        ticks: {
                            color: '#000000',
                            padding: 5,
                            autoSkip: false,
                            font: { family: fontFamily, size: 13.9 },
                            callback: value => String(value)
                        },
                        title: {
                            display: true,
                            text: yTitle,
                            color: '#000000',
                            font: { family: fontFamily, size: 13.9 },
                            padding: { top: 13, bottom: 0 }
                        }
                    }
                }
            },
            plugins: [frame, statsLegend]
        });
    </script>
</body>
</html>
